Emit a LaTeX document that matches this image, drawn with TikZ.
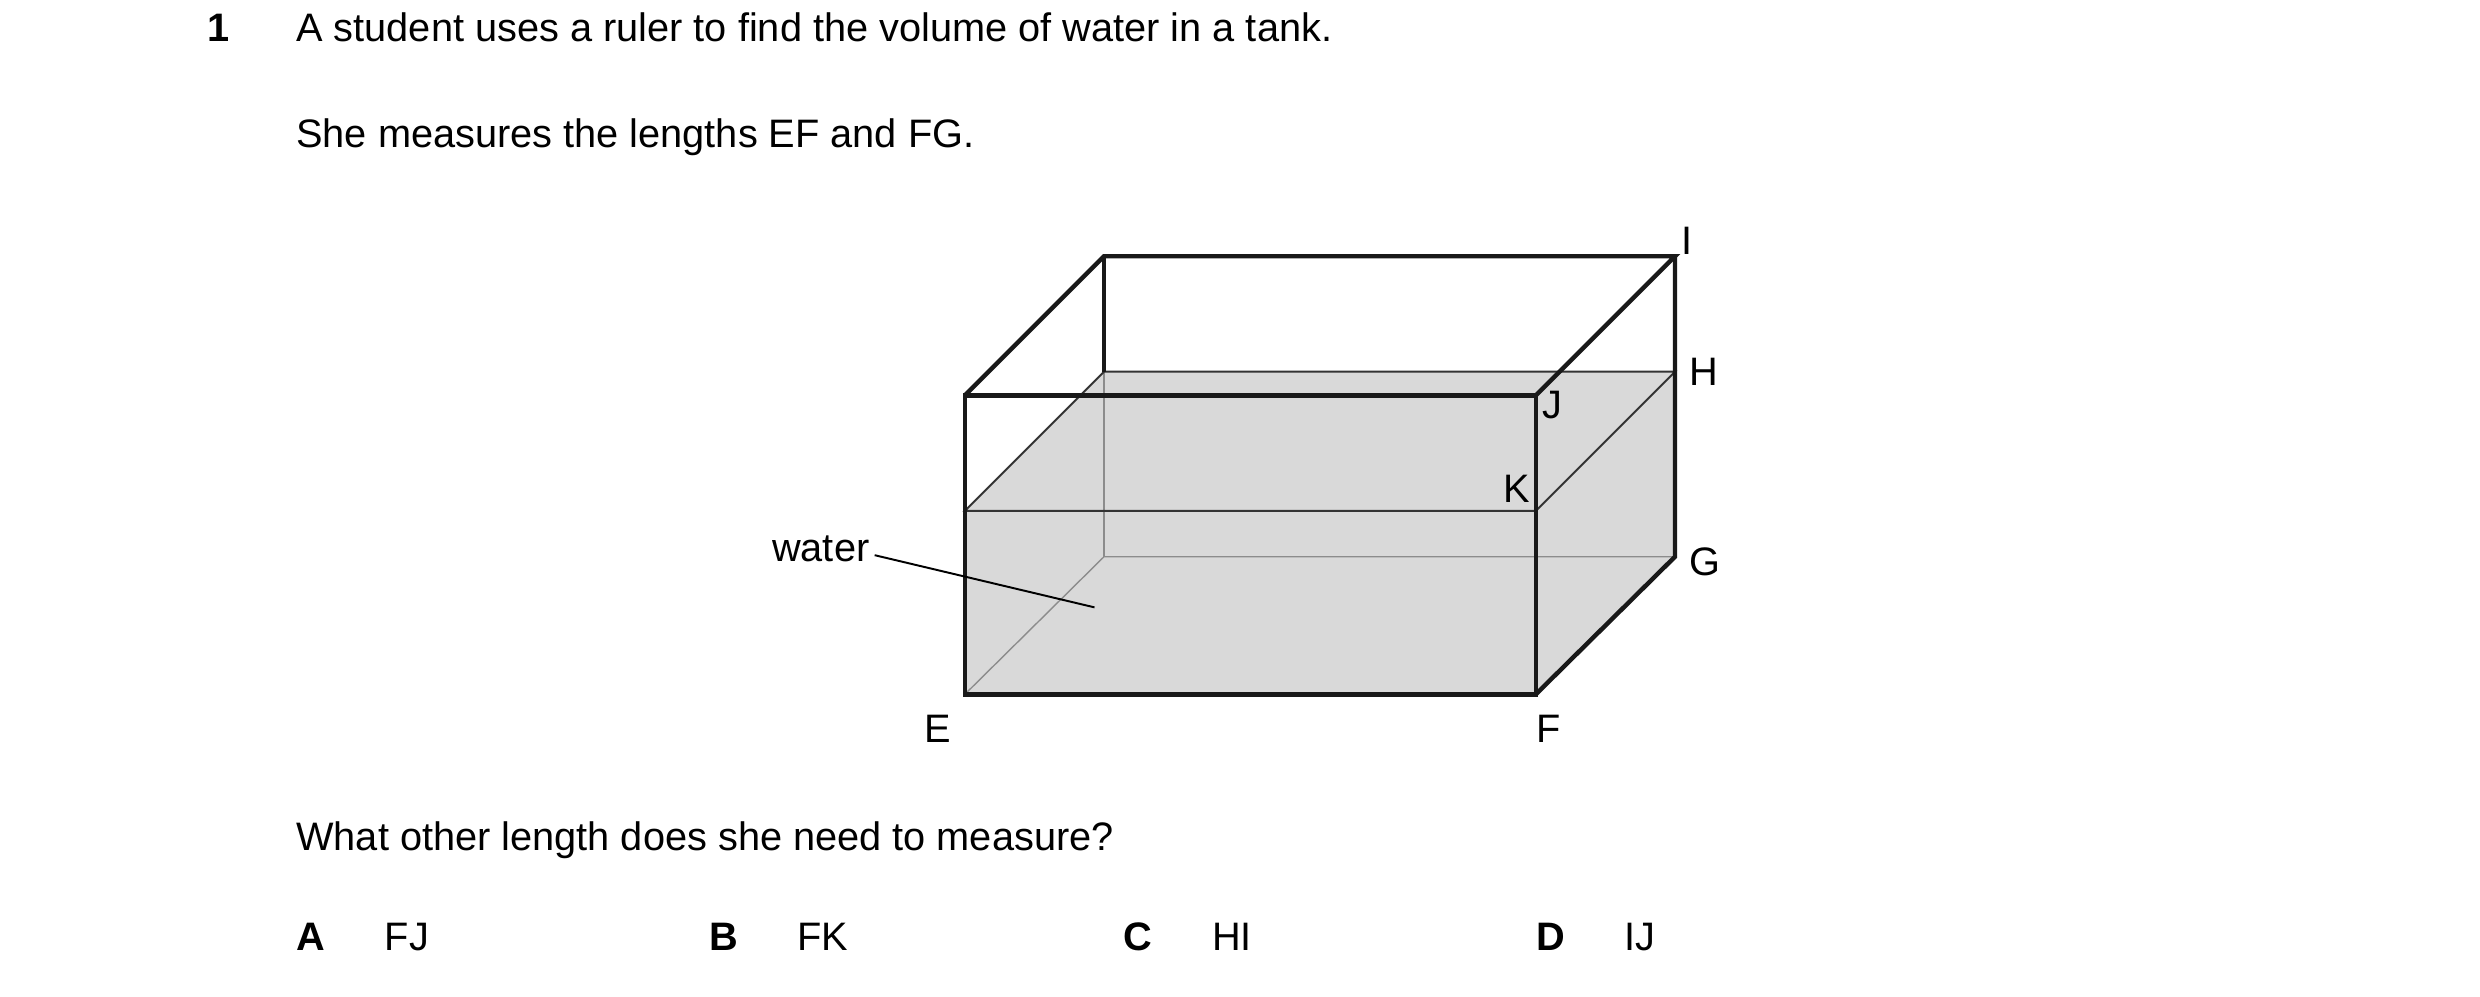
\documentclass[tikz,border=0pt]{standalone}
\usepackage{fontspec}
\setmainfont{Liberation Sans}
\usetikzlibrary{positioning}
\begin{document}
\begin{tikzpicture}[x=0.02cm,y=-0.02cm]
\tikzstyle{every node}+=[inner sep=0pt,font=\fontsize{14.3}{17}\selectfont]
\tikzstyle{edge}=[line width=1.6pt,black!90]
\tikzstyle{thin}=[line width=0.5pt,black!45]
\tikzstyle{surf}=[line width=0.7pt,black!80]
\useasboundingbox (0,0) rectangle (1568,630);
% corners
\coordinate (E) at (610,439);
\coordinate (F) at (971,439);
\coordinate (J) at (971,250);
\coordinate (A) at (610,250);
\coordinate (B) at (698,162);
\coordinate (I) at (1059,162);
\coordinate (G) at (1059,352);
\coordinate (C) at (698,352);
\coordinate (K) at (971,323);
\coordinate (L) at (610,323);
\coordinate (H) at (1059,235);
\coordinate (M) at (698,235);
% water
\fill [black!15] (E) -- (L) -- (M) -- (H) -- (G) -- (F) -- cycle;
\draw [thin] (E) -- (C) -- (G);
\draw [thin] (C) -- (M);
\draw [surf] (L) -- (K) -- (H) -- (M) -- cycle;
% tank
\draw [edge] (E) -- (F) -- (J) -- (A) -- cycle;
\draw [edge] (A) -- (B) -- (I) -- (J);
\draw [edge] (B) -- (M);
\draw [edge] (F) -- (G) -- (I);
% labels
\node [anchor=west] at (1063,152) {I};
\node [anchor=west] at (1068,235) {H};
\node [anchor=west] at (975,256) {J};
\node [anchor=east] at (968,309) {K};
\node [anchor=west] at (1068,355) {G};
\node at (593,461) {E};
\node at (979,461) {F};
\node (water) [anchor=east] at (550,347) {water};
\coordinate (wp) at (692,384);
\draw [line width=0.7pt] (water.east) ++(3,4) -- (wp);
% text
\node [anchor=base west,font=\fontsize{14.3}{17}\selectfont\bfseries] at (131,26) {1};
\node [anchor=base west] at (187,26) {A student uses a ruler to find the volume of water in a tank.};
\node [anchor=base west] at (187,93) {She measures the lengths EF and FG.};
\node [anchor=base west] at (187,538) {What other length does she need to measure?};
\foreach \x/\l/\t in {187/A/FJ,448/B/FK,710/C/HI,971/D/IJ}
  {\node [anchor=base west,font=\fontsize{14.3}{17}\selectfont\bfseries] at (\x,601) {\l};
   \node [anchor=base west] at (\x+56,601) {\t};}
\end{tikzpicture}
\end{document}
